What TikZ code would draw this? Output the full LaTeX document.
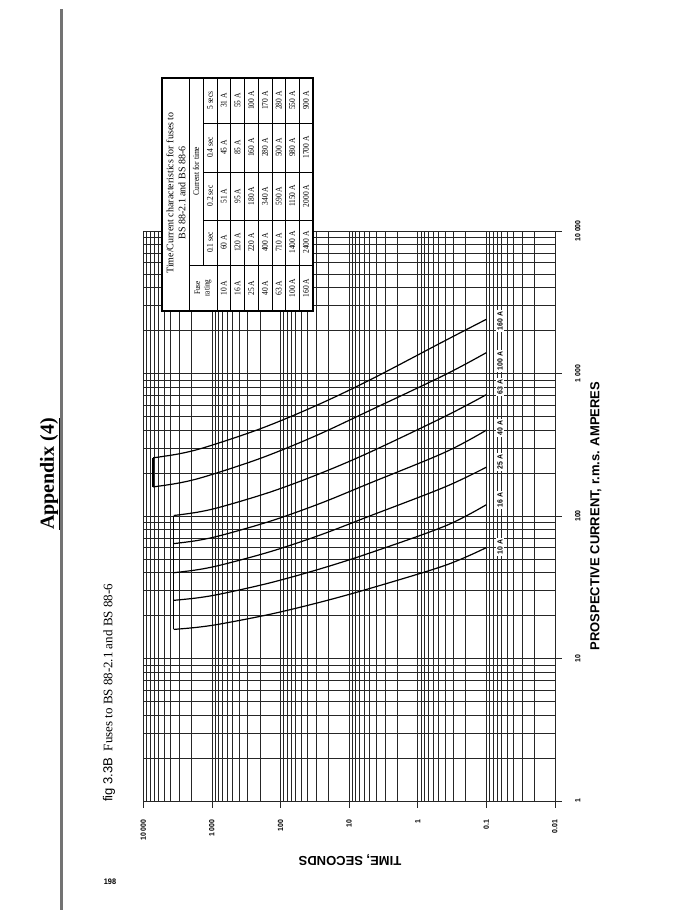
\documentclass[tikz,border=0pt]{standalone}
\usepackage{fontspec}
\setmainfont{Liberation Serif}
\setsansfont{Liberation Sans}
\newfontfamily\tabfont[FakeStretch=0.85]{Liberation Serif}
\newfontfamily\axfont[FakeStretch=0.92]{Liberation Sans}

\tikzset{
  gridline/.style={line width=0.65pt, black!85},
  fusecurve/.style={line width=1.2pt, black},
  tabline/.style={line width=0.75pt, black},
  ticklabel/.style={font=\axfont\bfseries\fontsize{7.5}{8}\selectfont, inner sep=0.5pt},
  curvelabel/.style={font=\axfont\bfseries\fontsize{7.5}{8}\selectfont, rotate=90, fill=white, inner sep=1.5pt},
  axistitle/.style={font=\sffamily\bfseries\fontsize{13}{15}\selectfont, inner sep=0pt},
  cell/.style={font=\tabfont\fontsize{8.8}{10}\selectfont, rotate=90, inner sep=0pt, align=center}
}

\begin{document}
\begin{tikzpicture}[x=1pt,y=1pt]

    % --- Page frame (1 unit = 1 pixel of the page, y downwards) ---
    \useasboundingbox (0,0) rectangle (684,-918);

    % Grey rule along the binding edge
    \draw[black!55, line width=2.2pt] (61.5,-9) -- (61.5,-910);

    % --- Page headings ---
    \node[rotate=90, font=\bfseries\fontsize{20}{24}\selectfont, inner sep=0pt] (appx) at (50,-474) {\underline{Appendix (4)}};
    \node[rotate=90, anchor=west, font=\fontsize{13}{15}\selectfont, inner sep=0pt] (figcap) at (109,-802) {{\sffamily fig 3.3B}\enspace Fuses to BS 88-2.1 and BS 88-6};
    \node[font=\axfont\bfseries\fontsize{8}{9}\selectfont, inner sep=0pt] (pagenum) at (110,-882) {198};

    % --- Log-log chart ---
    % Origin at t = 1 s, I = 1 A; x = log10(time), growing to the left,
    % y = log10(current), growing upwards.
    \begin{scope}[shift={(417.7,-801)}, x={(-68.6pt,0pt)}, y={(0pt,142.5pt)}]

        % Vertical lines: time, 0.01 s to 10 000 s
        \foreach \k in {-2,...,3}
            \foreach \m in {1,...,9}
                \draw[gridline] ({\k+log10(\m)},0) -- ({\k+log10(\m)},4);
        \draw[gridline] (4,0) -- (4,4);

        % Horizontal lines: current, 1 A to 10 000 A
        \foreach \k in {0,...,3}
            \foreach \m in {1,...,9}
                \draw[gridline] (-2,{\k+log10(\m)}) -- (4,{\k+log10(\m)});
        \draw[gridline] (-2,4) -- (4,4);

        % Decade ticks
        \foreach \k in {-2,...,4}
            \draw[gridline] (\k,0) -- ++(0pt,-7pt);
        \foreach \k in {0,...,4}
            \draw[gridline] (-2,\k) -- ++(7pt,0pt);

        % Time scale labels
        \foreach \k/\lab [count=\n] in {4/10 000, 3/1 000, 2/100, 1/10, 0/1, -1/0.1, -2/0.01}
            \node[ticklabel, rotate=90, anchor=east] (tlab\n) at (\k,-0.126) {\lab};

        % Current scale labels
        \foreach \k/\lab [count=\n] in {0/1, 1/10, 2/100, 3/1 000, 4/10 000}
            \node[ticklabel, rotate=90] (ilab\n) at (-2.335,\k) {\lab};

        % Axis titles
        \node[axistitle, rotate=90] (iaxis) at (-2.598,2.0) {PROSPECTIVE CURRENT, r.m.s. AMPERES};
        \node[axistitle, rotate=180] (taxis) at (0.987,-0.414) {TIME, SECONDS};

        % --- Fuse curves ---
        % start (log t, log 1.6 In), then 5 s, 0.4 s and 0.1 s values
        \foreach \tz/\ia/\ib/\ic/\ie in {
                3.5563/1.2041/1.4914/1.6532/1.7782,
                3.5563/1.4082/1.7404/1.9294/2.0792,
                3.5563/1.6021/2.0000/2.2041/2.3424,
                3.5563/1.8062/2.2304/2.4472/2.6021,
                3.5563/2.0035/2.4472/2.6990/2.8513,
                3.8573/2.2041/2.7404/2.9912/3.1461,
                3.8573/2.4082/2.9542/3.2304/3.3802}
            \draw[fusecurve] plot[smooth, tension=0.55] coordinates {
                (\tz,\ia)
                ({\tz-0.125*(\tz-0.699)},{\ia+0.0544*(\ib-\ia)})
                ({\tz-0.25*(\tz-0.699)},{\ia+0.1436*(\ib-\ia)})
                ({\tz-0.5*(\tz-0.699)},{\ia+0.3789*(\ib-\ia)})
                ({\tz-0.75*(\tz-0.699)},{\ia+0.6685*(\ib-\ia)})
                (0.699,\ib) (-0.398,\ic) (-1,\ie)};

        % Cut-off at 1 h (10 A to 63 A) and 2 h (100 A, 160 A)
        \draw[fusecurve] (3.5563,1.2041) -- (3.5563,2.0035);
        \draw[fusecurve] (3.8573,2.2041) -- (3.8573,2.4082);

        % Ratings beside the 0.1 s ends
        \foreach \ly/\lab [count=\n] in {1.782/10 A, 2.112/16 A, 2.379/25 A, 2.618/40 A, 2.905/63 A, 3.088/100 A, 3.368/160 A}
            \node[curvelabel] (clab\n) at (-1.2,\ly) {\lab};

    \end{scope}

    % --- Table of time/current values (turned with the chart) ---
    \draw[line width=1.2pt, fill=white] (162,-78) rectangle (313,-311);
    \draw[tabline] (189,-78) -- (189,-311);
    \draw[tabline] (203,-78) -- (203,-265);
    \foreach \x in {217,230.7,244.4,258.1,271.9,285.6,299.3}
        \draw[tabline] (\x,-78) -- (\x,-311);
    \draw[tabline] (189,-265) -- (313,-265);
    \foreach \y in {123,172,220}
        \draw[tabline] (203,-\y) -- (313,-\y);

    \node[cell, font=\fontsize{10}{12}\selectfont] (tabtitle) at (176,-193) {Time/Current characteristics for fuses to\\BS 88-2.1 and BS 88-6};
    \node[cell] (hcur) at (196,-171) {Current for time};
    \node[cell, font=\tabfont\fontsize{8.5}{9.5}\selectfont] (hfuse) at (203,-288) {Fuse\\rating};
    \foreach \y/\lab [count=\n] in {242.5/0.1 sec, 196/0.2 sec, 147.5/0.4 sec, 100.5/5 secs}
        \node[cell] (hsub\n) at (210,-\y) {\lab};

    \foreach \fu/\va/\vb/\vc/\vd [count=\i from 0] in {
            10 A/60 A/51 A/45 A/31 A,
            16 A/120 A/95 A/85 A/55 A,
            25 A/220 A/180 A/160 A/100 A,
            40 A/400 A/340 A/280 A/170 A,
            63 A/710 A/590 A/500 A/280 A,
            100 A/1400 A/1150 A/980 A/550 A,
            160 A/2400 A/2000 A/1700 A/900 A} {
        \node[cell] (fu\i) at ({223.85+13.7*\i},-288) {\fu};
        \node[cell] (va\i) at ({223.85+13.7*\i},-242.5) {\va};
        \node[cell] (vb\i) at ({223.85+13.7*\i},-196) {\vb};
        \node[cell] (vc\i) at ({223.85+13.7*\i},-147.5) {\vc};
        \node[cell] (vd\i) at ({223.85+13.7*\i},-100.5) {\vd};
    }

\end{tikzpicture}
\end{document}
